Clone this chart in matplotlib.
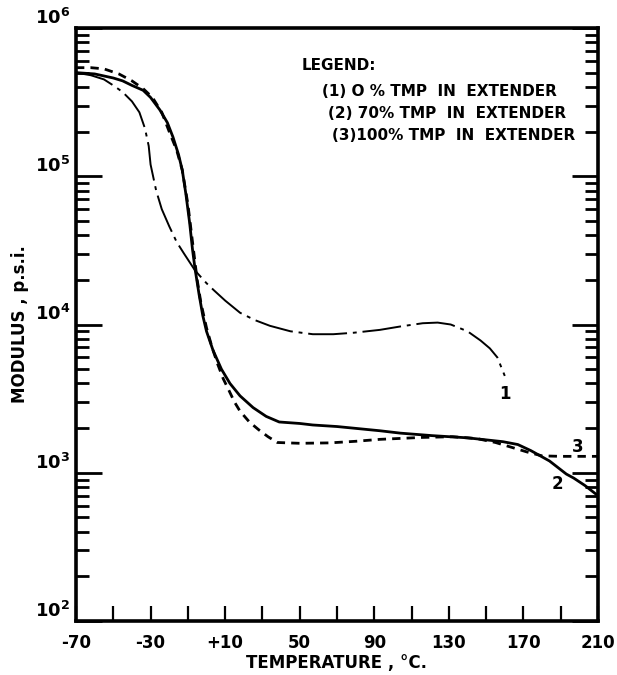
import matplotlib
matplotlib.use('Agg')
import matplotlib.pyplot as plt
from matplotlib.ticker import FixedLocator, NullFormatter

# curve 1 : 0 % TMP in extender (dash-dot)
temp1 = [-70, -62, -55, -50, -45, -40, -36, -33, -31, -30, -27, -24, -20, -16, -12, -6, 0, 4, 10,
         18, 26, 34, 45, 57, 68, 79, 93, 104, 116, 124, 131, 140, 147, 152, 156, 160]
mod1 = [5.0e5, 4.8e5, 4.5e5, 4.1e5, 3.7e5, 3.2e5, 2.7e5, 2.1e5, 1.6e5, 1.2e5, 8.0e4, 6.0e4, 4.6e4,
        3.6e4, 3.0e4, 2.3e4, 1.9e4, 1.7e4, 1.45e4, 1.2e4, 1.07e4, 9.8e3, 9.0e3, 8.6e3, 8.6e3, 8.8e3,
        9.2e3, 9.7e3, 1.02e4, 1.03e4, 1.0e4, 9.0e3, 7.8e3, 6.9e3, 6.0e3, 4.5e3]

# curve 2 : 70 % TMP in extender (solid)
temp2 = [-70, -60, -50, -45, -40, -34, -30, -25, -21, -18, -15, -13, -11, -9, -7.5, -6.2, -4, -2, 0,
         3.5, 8, 12.6, 18, 25, 32, 39, 50, 57, 70, 93, 104, 121, 140, 159, 167, 174, 184, 193, 197,
         203, 210]
mod2 = [5.0e5, 4.9e5, 4.6e5, 4.4e5, 4.1e5, 3.8e5, 3.4e5, 2.8e5, 2.3e5, 1.84e5, 1.4e5, 1.1e5, 7.5e4,
        4.8e4, 3.2e4, 2.4e4, 1.6e4, 1.15e4, 9.0e3, 6.7e3, 5.0e3, 4.0e3, 3.3e3, 2.75e3, 2.4e3, 2.2e3,
        2.15e3, 2.1e3, 2.05e3, 1.92e3, 1.85e3, 1.78e3, 1.72e3, 1.62e3, 1.55e3, 1.41e3, 1.2e3, 9.8e2,
        9.2e2, 8.2e2, 7.0e2]

# curve 3 : 100 % TMP in extender (dotted)
temp3 = [-70, -62, -55, -47, -40, -34, -29, -24, -20, -16, -13, -10, -7.5, -5, -3, 0, 3, 6, 9, 12,
         15, 18, 23, 28, 33, 38, 50, 66, 80, 93, 102, 115, 132, 145, 155, 164, 172, 180, 190, 200, 210]
mod3 = [5.4e5, 5.4e5, 5.3e5, 4.9e5, 4.4e5, 3.9e5, 3.4e5, 2.7e5, 2.0e5, 1.5e5, 1.1e5, 6.5e4, 3.6e4,
        2.0e4, 1.4e4, 9.5e3, 7.0e3, 5.4e3, 4.3e3, 3.6e3, 3.0e3, 2.6e3, 2.2e3, 1.95e3, 1.75e3, 1.6e3,
        1.58e3, 1.59e3, 1.63e3, 1.68e3, 1.7e3, 1.73e3, 1.75e3, 1.7e3, 1.6e3, 1.48e3, 1.38e3, 1.3e3,
        1.29e3, 1.29e3, 1.29e3]

xticks = [-70, -30, 10, 50, 90, 130, 170, 210]
xlabels = ['-70', '-30', '+10', '50', '90', '130', '170', '210']
yticks = [1e2, 1e3, 1e4, 1e5, 1e6]
ylabels = [r'$\mathbf{10^2}$', r'$\mathbf{10^3}$', r'$\mathbf{10^4}$', r'$\mathbf{10^5}$', r'$\mathbf{10^6}$']

legend_lines = ['(1) O % TMP  IN  EXTENDER', '(2) 70% TMP  IN  EXTENDER', '(3)100% TMP  IN  EXTENDER']

plt.rcParams['font.family'] = ['DejaVu Sans']
plt.rcParams['font.weight'] = 'bold'

fig = plt.figure(figsize=(6.17, 6.75), dpi=100)
ax = fig.add_axes([76/617, 1-621/675, 522/617, 593/675])

ax.plot(temp1, mod1, color='black', lw=1.4, linestyle=(0, (20, 3, 2, 3)))
ax.plot(temp2, mod2, color='black', lw=2.0, linestyle='-')
ax.plot(temp3, mod3, color='black', lw=2.0, linestyle=(0, (3, 2.2)))

ax.set_yscale('log')
ax.set_xlim(-70, 210)
ax.set_ylim(1e2, 1e6)

ax.set_xticks(xticks)
ax.set_xticklabels(xlabels, fontsize=12, fontweight='bold')
ax.xaxis.set_minor_locator(FixedLocator(range(-50, 210, 20)))
ax.tick_params(axis='x', which='both', direction='in', length=11, width=1.6, top=False, pad=9)

ax.set_yticks(yticks)
ax.set_yticklabels(ylabels, fontsize=13)
minors = [m * 10**e for e in range(2, 6) for m in range(2, 10)]
ax.yaxis.set_minor_locator(FixedLocator(minors))
ax.yaxis.set_minor_formatter(NullFormatter())
ax.tick_params(axis='y', which='major', direction='in', length=19, width=2, right=True, pad=4)
ax.tick_params(axis='y', which='minor', direction='in', length=9.5, width=2, right=True)
for lab in ax.get_yticklabels():
    lab.set_va('bottom')

for s in ax.spines.values():
    s.set_linewidth(2.6)

ax.set_xlabel('TEMPERATURE , °C.', fontsize=12, fontweight='bold', labelpad=2)
ax.set_ylabel('MODULUS , p.s.i.', fontsize=12, fontweight='bold', labelpad=4)

# legend block written as text like the original figure
fig.text(302/617, 1-66/675, 'LEGEND:', fontsize=11, fontweight='bold', va='center', ha='left')
for i, txt in enumerate(legend_lines):
    fig.text([322, 328, 332][i]/617, 1-[91, 114, 136][i]/675, txt, fontsize=11,
             fontweight='bold', va='center', ha='left')

# curve numbers
ax.text(160, 3.4e3, '1', fontsize=12, fontweight='bold', ha='center', va='center')
ax.text(188, 8.4e2, '2', fontsize=12, fontweight='bold', ha='center', va='center')
ax.text(199, 1.5e3, '3', fontsize=12, fontweight='bold', ha='center', va='center')

fig.savefig('out.png', dpi=100)
